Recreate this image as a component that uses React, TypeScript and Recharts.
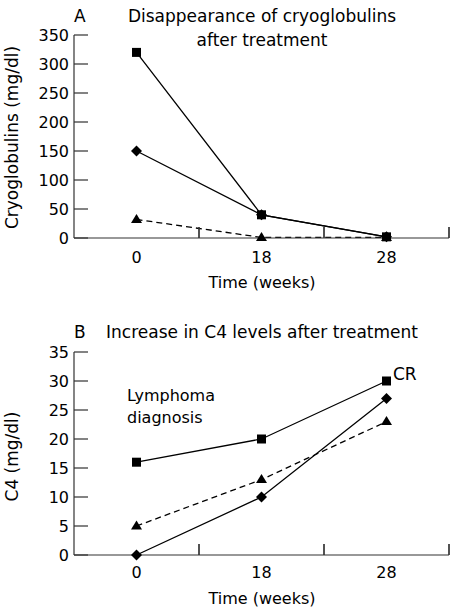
import React from 'react';
import { LineChart, Line, XAxis, YAxis } from 'recharts';

// ---- data ----
const weeks = ['0', '18', '28'];
const cryoSquare = [320, 40, 2];
const cryoDiamond = [150, 40, 2];
const cryoTriangle = [32, 1, 1];
const c4Square = [16, 20, 30];
const c4Diamond = [0, 10, 27];
const c4Triangle = [5, 13, 23];
const cryoTicks = [0, 50, 100, 150, 200, 250, 300, 350];
const c4Ticks = [0, 5, 10, 15, 20, 25, 30, 35];
const xTickPositions = [-0.5, 0, 0.5, 1, 1.5, 2, 2.5];
const xBoundaryTicks = [0.5, 1.5, 2.5];

const cryoData = weeks.map((w, i) => ({ idx: i, week: w, sq: cryoSquare[i], di: cryoDiamond[i], tr: cryoTriangle[i] }));
const c4Data = weeks.map((w, i) => ({ idx: i, week: w, sq: c4Square[i], di: c4Diamond[i], tr: c4Triangle[i] }));

const FONT = '"DejaVu Sans", sans-serif';
const AXIS = '#333';
const INK = '#000';

const makeXTick = (labelOffset: number) => (props: any) => {
  const { x, y, payload, index } = props;
  const v = payload.value;
  const isLabel = Number.isInteger(v);
  return (
    <g key={`xt${index}`}>
      {isLabel ? (
        <text x={x} y={y + labelOffset} textAnchor="middle" fontFamily={FONT} fontSize={16} fill={INK}>
          {weeks[v]}
        </text>
      ) : v > 0 ? (
        <rect x={x - 0.6} y={y - 11} width={1.2} height={11} fill={AXIS} />
      ) : null}
    </g>
  );
};

const YTick = (props: any) => {
  const { x, y, payload, index } = props;
  return (
    <g key={`yt${index}`}>
      <rect x={x} y={y - 0.6} width={14} height={1.2} fill={AXIS} />
      <text x={x - 5} y={y + 6} textAnchor="end" fontFamily={FONT} fontSize={16} fill={INK}>
        {payload.value}
      </text>
    </g>
  );
};

const squareDot = (p: any) => (
  <rect key={`s${p.index}`} x={p.cx - 4.5} y={p.cy - 4.5} width={9} height={9} fill={INK} />
);
const diamondDot = (p: any) => (
  <polygon
    key={`d${p.index}`}
    points={`${p.cx},${p.cy - 5.5} ${p.cx + 5.5},${p.cy} ${p.cx},${p.cy + 5.5} ${p.cx - 5.5},${p.cy}`}
    fill={INK}
  />
);
const triangleDot = (p: any) => (
  <polygon
    key={`t${p.index}`}
    points={`${p.cx},${p.cy - 5.5} ${p.cx + 5.5},${p.cy + 3.5} ${p.cx - 5.5},${p.cy + 3.5}`}
    fill={INK}
  />
);

const blank = () => '';

function Panel({ data, ticks, max, labelOffset }: { data: any[]; ticks: number[]; max: number; labelOffset: number }) {
  return (
    <LineChart width={452} height={306} data={data} margin={{ top: 35, right: 3, left: 0, bottom: 0 }}>
      <XAxis
        dataKey="idx"
        type="number"
        domain={[-0.5, 2.5]}
        ticks={xTickPositions}
        interval={0}
        tickSize={0}
        tickMargin={0}
        tickLine={false}
        axisLine={{ stroke: AXIS, strokeWidth: 1.2 }}
        tick={makeXTick(labelOffset)}
        height={68}
      />
      <YAxis
        type="number"
        domain={[0, max]}
        ticks={ticks}
        interval={0}
        tickSize={0}
        tickMargin={0}
        tickLine={false}
        axisLine={{ stroke: AXIS, strokeWidth: 1.2 }}
        tick={YTick}
        width={74}
      />
      <XAxis
        xAxisId="tk"
        dataKey="idx"
        type="number"
        domain={[-0.5, 2.5]}
        ticks={xBoundaryTicks}
        interval={0}
        mirror
        orientation="bottom"
        tickSize={11}
        tickMargin={0}
        tickFormatter={blank}
        axisLine={false}
        tickLine={{ stroke: AXIS, strokeWidth: 1.2 }}
        height={11}
      />
      <YAxis
        yAxisId="tk"
        type="number"
        domain={[0, max]}
        ticks={ticks}
        interval={0}
        mirror
        orientation="left"
        tickSize={14}
        tickMargin={0}
        tickFormatter={blank}
        axisLine={false}
        tickLine={{ stroke: AXIS, strokeWidth: 1.2 }}
        width={14}
      />
      <Line type="linear" dataKey="tr" stroke={INK} strokeWidth={1.3} strokeDasharray="6 4" dot={triangleDot} activeDot={false} isAnimationActive={false} />
      <Line type="linear" dataKey="di" stroke={INK} strokeWidth={1.3} dot={diamondDot} activeDot={false} isAnimationActive={false} />
      <Line type="linear" dataKey="sq" stroke={INK} strokeWidth={1.3} dot={squareDot} activeDot={false} isAnimationActive={false} />
    </LineChart>
  );
}

// HTML text helper: (x, baseline) with anchor
function T({ x, b, size, anchor = 'start', children }: { x: number; b: number; size: number; anchor?: string; children: React.ReactNode }) {
  const w = 360;
  const left = anchor === 'middle' ? x - w / 2 : x;
  return (
    <div
      style={{
        position: 'absolute',
        left,
        top: b - 0.846 * size,
        width: w,
        textAlign: anchor === 'middle' ? 'center' : 'left',
        fontFamily: FONT,
        fontSize: size,
        lineHeight: `${size}px`,
        color: INK,
        whiteSpace: 'nowrap',
      }}
    >
      {children}
    </div>
  );
}

function VT({ bx, cy, size, children }: { bx: number; cy: number; size: number; children: React.ReactNode }) {
  const w = 260;
  const cx = bx - (0.846 - 0.5) * size;
  return (
    <div
      style={{
        position: 'absolute',
        left: cx - w / 2,
        top: cy - size / 2,
        width: w,
        height: size,
        textAlign: 'center',
        fontFamily: FONT,
        fontSize: size,
        lineHeight: `${size}px`,
        color: INK,
        whiteSpace: 'nowrap',
        transform: 'rotate(-90deg)',
        transformOrigin: '50% 50%',
      }}
    >
      {children}
    </div>
  );
}

export default function App() {
  return (
    <div style={{ position: 'absolute', left: 0, top: 0, width: 452, height: 612, background: '#fff' }}>
      <div style={{ position: 'absolute', left: 0, top: 0 }}>
        <Panel data={cryoData} ticks={cryoTicks} max={350} labelOffset={25} />
      </div>
      <div style={{ position: 'absolute', left: 0, top: 317 }}>
        <Panel data={c4Data} ticks={c4Ticks} max={35} labelOffset={23} />
      </div>
      <T x={74} b={22} size={17}>A</T>
      <T x={262} b={22} size={17} anchor="middle">Disappearance of cryoglobulins</T>
      <T x={262} b={46} size={17} anchor="middle">after treatment</T>
      <VT bx={18} cy={137} size={17}>Cryoglobulins (mg/dl)</VT>
      <T x={262} b={289} size={16} anchor="middle">Time (weeks)</T>

      <T x={74} b={338} size={17}>B</T>
      <T x={262} b={338} size={17} anchor="middle">Increase in C4 levels after treatment</T>
      <T x={393} b={380} size={17}>CR</T>
      <T x={127} b={402} size={16}>Lymphoma</T>
      <T x={127} b={424} size={16}>diagnosis</T>
      <VT bx={18} cy={456} size={17}>C4 (mg/dl)</VT>
      <T x={262} b={605} size={16} anchor="middle">Time (weeks)</T>
    </div>
  );
}
